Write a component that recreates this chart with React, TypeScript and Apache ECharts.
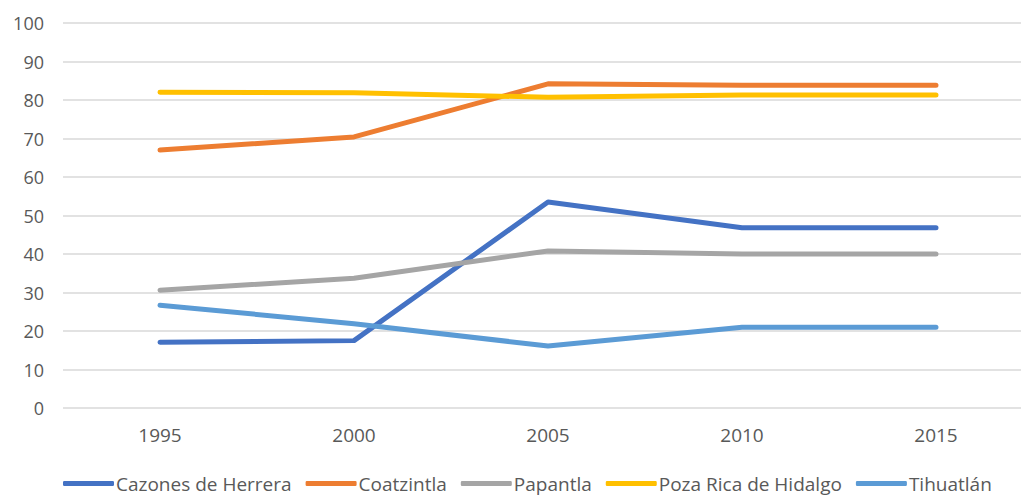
import React, { useEffect, useRef } from "react";
import * as echarts from "echarts";

const years = ["1995", "2000", "2005", "2010", "2015"];
const yTicks = [0, 10, 20, 30, 40, 50, 60, 70, 80, 90, 100];
const cazones = [17.1, 17.5, 53.5, 46.8, 46.8];
const coatzintla = [67, 70.4, 84.2, 83.8, 83.8];
const papantla = [30.6, 33.7, 40.8, 40, 40];
const pozaRica = [82, 81.9, 80.7, 81.3, 81.3];
const tihuatlan = [26.7, 21.9, 16.1, 21, 21];

const seriesDefs = [
  { name: "Cazones de Herrera", data: cazones, color: "#4472C4" },
  { name: "Coatzintla", data: coatzintla, color: "#ED7D31" },
  { name: "Papantla", data: papantla, color: "#A5A5A5" },
  { name: "Poza Rica de Hidalgo", data: pozaRica, color: "#FFC000" },
  { name: "Tihuatlán", data: tihuatlan, color: "#5B9BD5" },
];

export default function App() {
  const ref = useRef<HTMLDivElement>(null);
  useEffect(() => {
    const chart = echarts.init(ref.current!, null, { renderer: "svg" });
    chart.setOption({
      animation: false,
      textStyle: { fontFamily: "Open Sans" },
      grid: { left: 63, top: 23, width: 970, height: 385, outerBoundsMode: "none", containLabel: false },
      legend: {
        top: 474,
        left: 63,
        padding: 0,
        itemWidth: 51,
        itemHeight: 5,
        itemGap: 14,
        icon: "roundRect",
        textStyle: { color: "#595959", fontSize: 19, fontFamily: "Open Sans", padding: [0, 0, 0, -3] },
        data: seriesDefs.map((s) => s.name),
      },
      xAxis: {
        type: "category",
        data: years,
        axisLine: { show: false },
        axisTick: { show: false },
        axisLabel: { color: "#595959", fontSize: 19, margin: 17 },
      },
      yAxis: {
        type: "value",
        min: yTicks[0],
        max: yTicks[yTicks.length - 1],
        interval: 10,
        axisLabel: { color: "#595959", fontSize: 18, margin: 19 },
        splitLine: { lineStyle: { color: "#D9D9D9", width: 1.5 } },
      },
      series: seriesDefs.map((s) => ({
        name: s.name,
        type: "line",
        data: s.data,
        symbol: "none",
        color: s.color,
        lineStyle: { width: 5, color: s.color, cap: "round", join: "round" },
      })),
    });
    return () => chart.dispose();
  }, []);
  return <div ref={ref} style={{ width: 1021, height: 495, position: "absolute", left: 0, top: 0 }} />;
}
